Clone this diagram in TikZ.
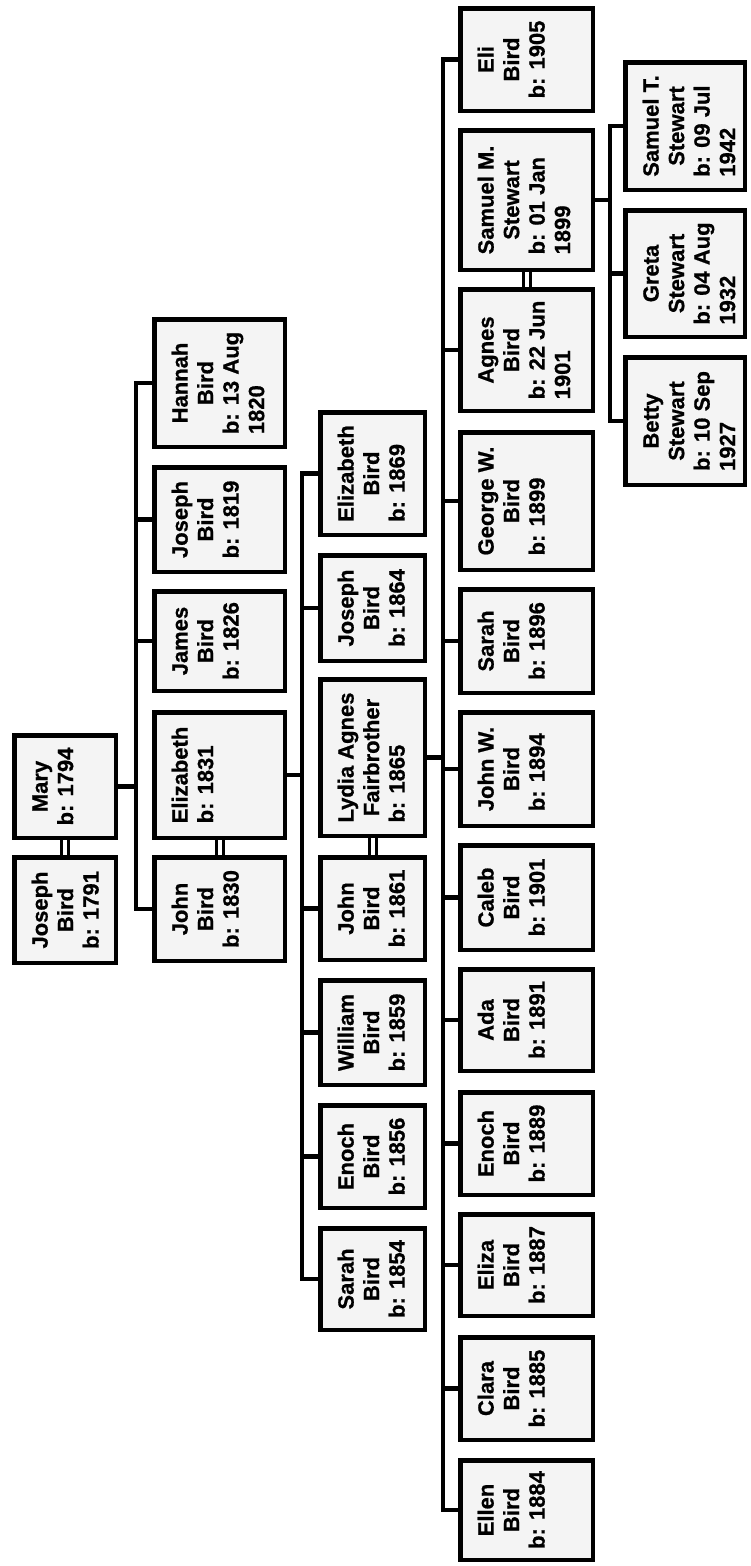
\documentclass[tikz,border=0pt]{standalone}
\usepackage{graphicx}
\usepackage{fontspec}
\setmainfont{Liberation Sans}[BoldFeatures={FakeBold=0.8}]
\definecolor{cardfill}{gray}{0.955}
% box content: width, height (in pt), text set from the left edge
\newcommand{\card}[3]{\rotatebox{90}{\parbox[c][#1pt][t]{#2pt}{\vspace*{15.5pt}\centering #3}}}
\newcommand{\who}[2]{\begin{tabular}[t]{@{}c@{}}#1\\\multicolumn{1}{@{}l@{}}{\begin{tabular}[t]{@{}l@{}}#2\end{tabular}}\end{tabular}}

\begin{document}
\begin{tikzpicture}[x=1pt, y=-1pt,
    box/.style={draw, line width=4.5pt, fill=cardfill, inner sep=0pt,
                font=\fontsize{22}{25.5}\selectfont\bfseries},
    link/.style={line width=4.5pt},
    wed/.style={line width=3pt},
  ]
  \fill[white] (0,0) rectangle (751,1566);
  \useasboundingbox (0,0) rectangle (751,1566);

  % bus lines
  \coordinate (busA) at (136,0);
  \coordinate (busB) at (302,0);
  \coordinate (busC) at (443,0);
  \coordinate (busD) at (610,0);

  % first couple
  \node[box] (mary) at (65,786.5) {\card{101.5}{102.5}{\who{Mary}{b: 1794}}};
  \node[box] (joseph) at (65,910) {\card{101.5}{105.5}{\who{Joseph\\Bird}{b: 1791}}};

  % their children
  \node[box] (hannah) at (219.5,383) {\card{130.5}{127.5}{\who{Hannah\\Bird}{b: 13 Aug\\1820}}};
  \node[box] (josephjr) at (219.5,519.5) {\card{130.5}{104.5}{\who{Joseph\\Bird}{b: 1819}}};
  \node[box] (james) at (219.5,641) {\card{130.5}{99.5}{\who{James\\Bird}{b: 1826}}};
  \node[box] (elizabeth) at (219.5,775) {\card{130.5}{125.5}{\who{Elizabeth}{b: 1831}}};
  \node[box] (john) at (219.5,909) {\card{130.5}{103.5}{\who{John\\Bird}{b: 1830}}};

  % children of John and Elizabeth
  \node[box] (elizabethjr) at (372.5,473.5) {\card{104.5}{122.5}{\who{Elizabeth\\Bird}{b: 1869}}};
  \node[box] (josephb) at (372.5,608) {\card{104.5}{105.5}{\who{Joseph\\Bird}{b: 1864}}};
  \node[box] (lydia) at (372.5,757.5) {\card{104.5}{156.5}{\who{Lydia Agnes\\Fairbrother}{b: 1865}}};
  \node[box] (johnjr) at (372.5,908.5) {\card{104.5}{102.5}{\who{John\\Bird}{b: 1861}}};
  \node[box] (william) at (372.5,1032.5) {\card{104.5}{104.5}{\who{William\\Bird}{b: 1859}}};
  \node[box] (enoch) at (372.5,1156.5) {\card{104.5}{102.5}{\who{Enoch\\Bird}{b: 1856}}};
  \node[box] (sarah) at (372.5,1279) {\card{104.5}{101.5}{\who{Sarah\\Bird}{b: 1854}}};

  % children of John and Lydia
  \node[box] (eli) at (526.5,59.5) {\card{132.5}{102.5}{\who{Eli\\Bird}{b: 1905}}};
  \node[box] (samuelm) at (526.5,200) {\card{132.5}{139.5}{\who{Samuel M.\\Stewart}{b: 01 Jan\\1899}}};
  \node[box] (agnes) at (526.5,350) {\card{132.5}{121.5}{\who{Agnes\\Bird}{b: 22 Jun\\1901}}};
  \node[box] (george) at (526.5,501) {\card{132.5}{137.5}{\who{George W.\\Bird}{b: 1899}}};
  \node[box] (sarahjr) at (526.5,641) {\card{132.5}{103.5}{\who{Sarah\\Bird}{b: 1896}}};
  \node[box] (johnw) at (526.5,769) {\card{132.5}{113.5}{\who{John W.\\Bird}{b: 1894}}};
  \node[box] (caleb) at (526.5,897.5) {\card{132.5}{104.5}{\who{Caleb\\Bird}{b: 1901}}};
  \node[box] (ada) at (526.5,1020) {\card{132.5}{101.5}{\who{Ada\\Bird}{b: 1891}}};
  \node[box] (enochjr) at (526.5,1143.5) {\card{132.5}{102.5}{\who{Enoch\\Bird}{b: 1889}}};
  \node[box] (eliza) at (526.5,1265) {\card{132.5}{101.5}{\who{Eliza\\Bird}{b: 1887}}};
  \node[box] (clara) at (526.5,1388.5) {\card{132.5}{102.5}{\who{Clara\\Bird}{b: 1885}}};
  \node[box] (ellen) at (526.5,1510) {\card{132.5}{99.5}{\who{Ellen\\Bird}{b: 1884}}};

  % children of Samuel and Agnes
  \node[box] (samuelt) at (685,126) {\card{119.5}{127.5}{\who{Samuel T.\\Stewart}{b: 09 Jul\\1942}}};
  \node[box] (greta) at (685,273.5) {\card{119.5}{126.5}{\who{Greta\\Stewart}{b: 04 Aug\\1932}}};
  \node[box] (betty) at (685,421) {\card{119.5}{127.5}{\who{Betty\\Stewart}{b: 10 Sep\\1927}}};

  % marriages
  \foreach \a/\b in {mary/joseph, elizabeth/john, lydia/johnjr, samuelm/agnes} {
    \draw[wed] ([xshift=-3.5]\a.south) -- ([xshift=-3.5]\b.north);
    \draw[wed] ([xshift=3.5]\a.south) -- ([xshift=3.5]\b.north);
  }

  % descent lines
  \draw[link] (hannah.west) -- (hannah.west -| busA) |- (john.west);
  \foreach \k in {josephjr, james} \draw[link] (\k.west) -- (\k.west -| busA);
  \draw[link] (mary.east) -- (mary.east -| busA);

  \draw[link] (elizabethjr.west) -- (elizabethjr.west -| busB) |- (sarah.west);
  \foreach \k in {josephb, johnjr, william, enoch} \draw[link] (\k.west) -- (\k.west -| busB);
  \draw[link] (elizabeth.east) -- (elizabeth.east -| busB);

  \draw[link] (eli.west) -- (eli.west -| busC) |- (ellen.west);
  \foreach \k in {agnes, george, sarahjr, johnw, caleb, ada, enochjr, eliza, clara}
    \draw[link] (\k.west) -- (\k.west -| busC);
  \draw[link] (lydia.east) -- (lydia.east -| busC);

  \draw[link] (samuelt.west) -- (samuelt.west -| busD) |- (betty.west);
  \draw[link] (greta.west) -- (greta.west -| busD);
  \draw[link] (samuelm.east) -- (samuelm.east -| busD);
\end{tikzpicture}
\end{document}
